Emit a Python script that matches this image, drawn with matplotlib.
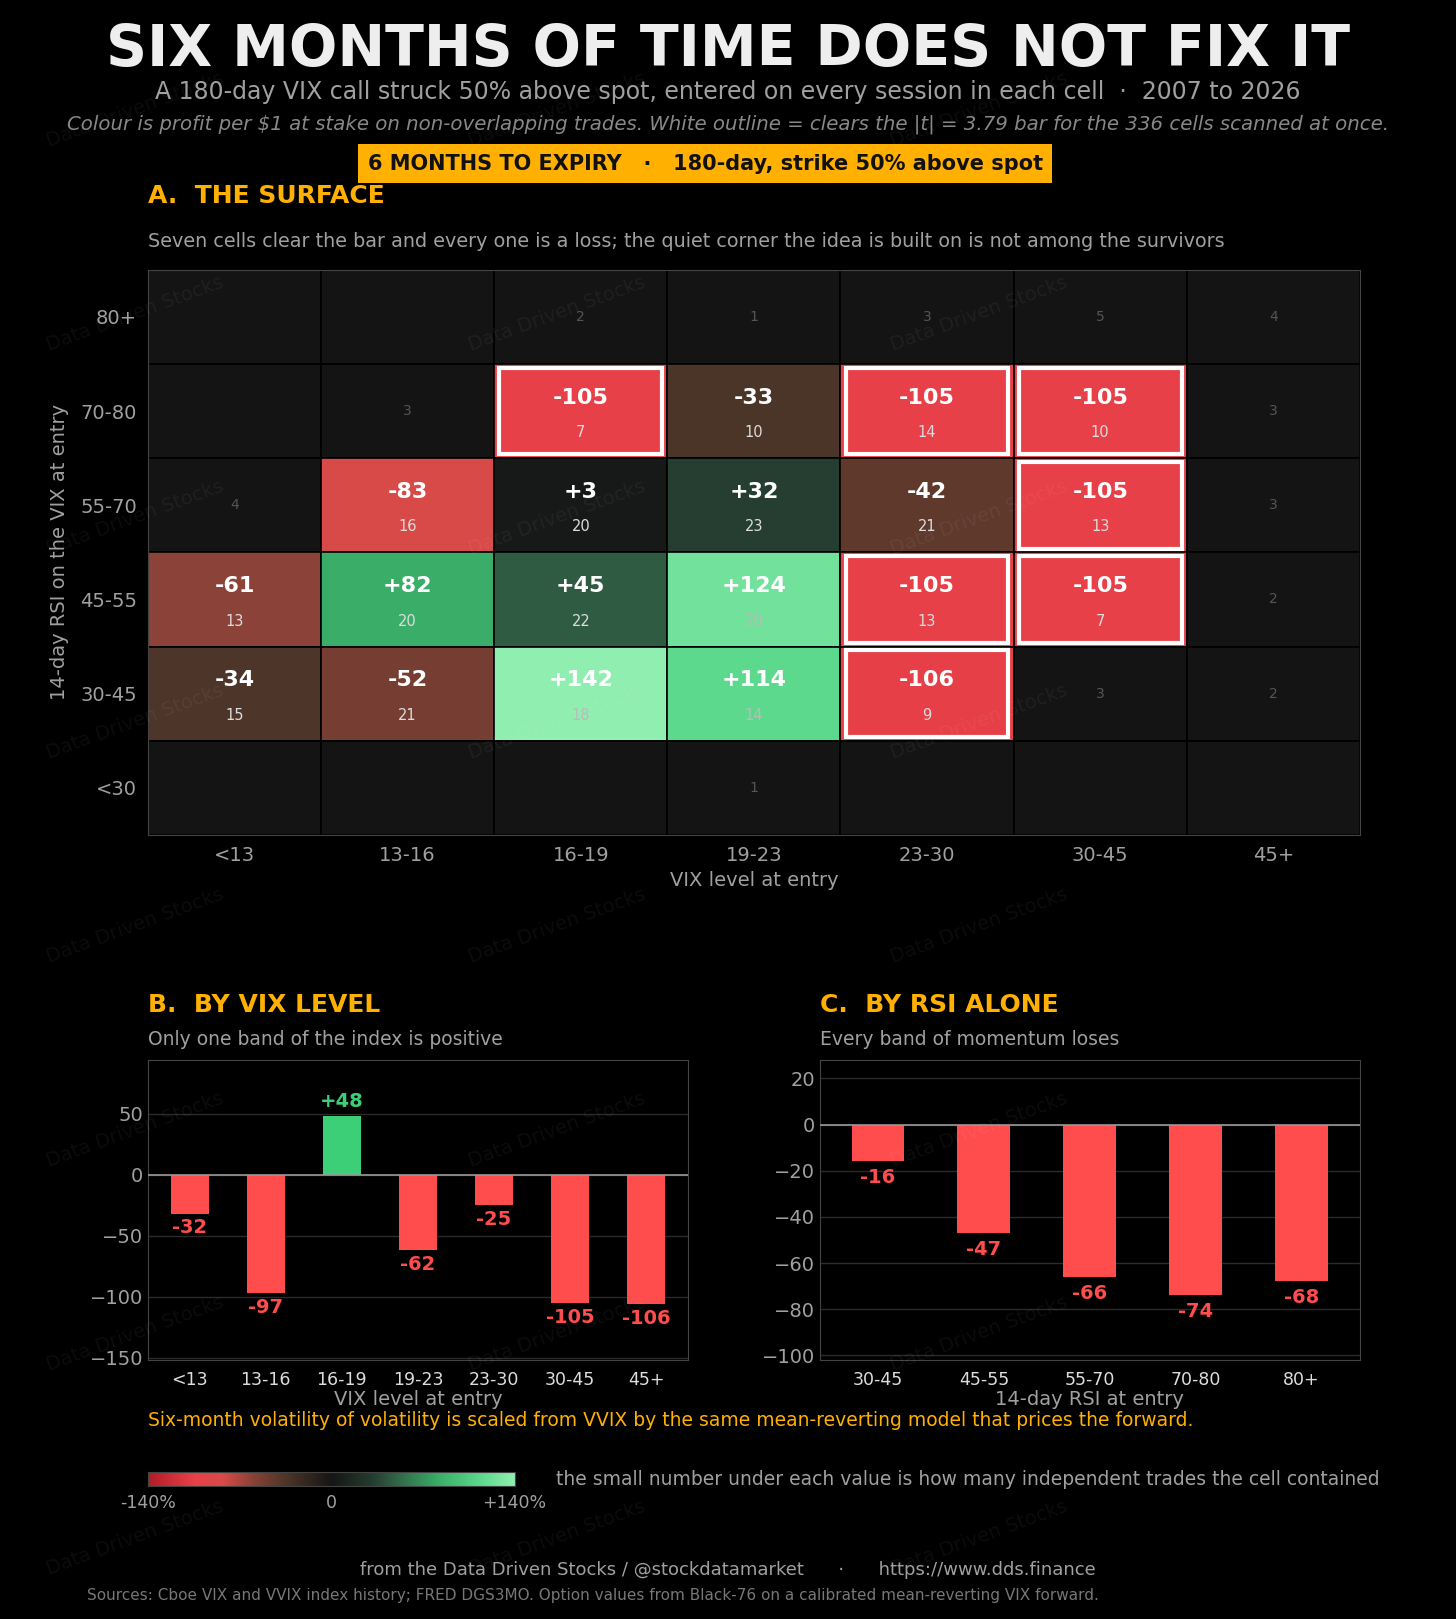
import numpy as np
import matplotlib.pyplot as plt
from matplotlib.colors import LinearSegmentedColormap, Normalize
from matplotlib.patches import Rectangle

# ---------------------------------------------------------------------------
# Data
# ---------------------------------------------------------------------------
vix_bands = ["<13", "13-16", "16-19", "19-23", "23-30", "30-45", "45+"]
rsi_bands = ["80+", "70-80", "55-70", "45-55", "30-45", "<30"]  # top to bottom

N = None
surface = [
    [N, N, N, N, N, N, N],
    [N, N, -105, -33, -105, -105, N],
    [N, -83, 3, 32, -42, -105, N],
    [-61, 82, 45, 124, -105, -105, N],
    [-34, -52, 142, 114, -106, N, N],
    [N, N, N, N, N, N, N],
]
trades = [
    [0, 0, 2, 1, 3, 5, 4],
    [0, 3, 7, 10, 14, 10, 3],
    [4, 16, 20, 23, 21, 13, 3],
    [13, 20, 22, 20, 13, 7, 2],
    [15, 21, 18, 14, 9, 3, 2],
    [0, 0, 0, 1, 0, 0, 0],
]
significant = [(1, 2), (1, 4), (1, 5), (2, 5), (3, 4), (3, 5), (4, 4)]

vix_bar = [-32, -97, 48, -62, -25, -105, -106]
rsi_labels = ["30-45", "45-55", "55-70", "70-80", "80+"]
rsi_bar = [-16, -47, -66, -74, -68]

# ---------------------------------------------------------------------------
# Styling
# ---------------------------------------------------------------------------
BG = "#000000"
ORANGE = "#ffb000"
GREY = "#a0a0a0"
RED = "#ff4d4d"
GREEN = "#3ccf78"
EMPTY = "#141414"

stops = [(-140, "#b01c28"), (-105, "#e84048"), (-83, "#d84a48"), (-61, "#8b4238"),
         (-33, "#4a3428"), (0, "#161616"), (32, "#253d30"), (45, "#2f5a42"),
         (82, "#3aae68"), (114, "#5cd88c"), (140, "#90eeb0")]
cmap = LinearSegmentedColormap.from_list(
    "pl", [((v + 140) / 280, c) for v, c in stops])
norm = Normalize(-140, 140)

plt.rcParams["font.family"] = ["DejaVu Sans"]
fig = plt.figure(figsize=(14.56, 16.19), dpi=100, facecolor=BG)

# watermarks
for wx in [0.03, 0.32, 0.61]:
    for wy in np.arange(0.05, 0.98, 0.126):
        fig.text(wx, wy, "Data Driven Stocks", color="white", alpha=0.05,
                 fontsize=14, rotation=20, ha="left", va="center")

# ---------------------------------------------------------------------------
# Headings
# ---------------------------------------------------------------------------
fig.text(0.5, 0.969, "SIX MONTHS OF TIME DOES NOT FIX IT", color="#eeeeee",
         fontsize=41, fontweight="bold", ha="center", va="center")
fig.text(0.5, 0.943, "A 180-day VIX call struck 50% above spot, entered on every session in each cell  ·  2007 to 2026",
         color=GREY, fontsize=17, ha="center", va="center")
fig.text(0.5, 0.923, "Colour is profit per $1 at stake on non-overlapping trades. White outline = clears the |t| = 3.79 bar for the 336 cells scanned at once.",
         color="#888888", fontsize=14.2, style="italic", ha="center", va="center")
fig.text(0.4845, 0.899, "6 MONTHS TO EXPIRY   ·   180-day, strike 50% above spot",
         color="#111111", fontsize=15, fontweight="bold", ha="center", va="center",
         bbox=dict(boxstyle="square,pad=0.45", fc=ORANGE, ec="none"))
fig.text(0.1016, 0.879, "A.  THE SURFACE", color=ORANGE, fontsize=18,
         fontweight="bold", ha="left", va="center")
fig.text(0.1016, 0.851, "Seven cells clear the bar and every one is a loss; the quiet corner the idea is built on is not among the survivors",
         color=GREY, fontsize=13.8, ha="left", va="center")

# ---------------------------------------------------------------------------
# Heatmap
# ---------------------------------------------------------------------------
ax = fig.add_axes([0.1016, 0.4843, 0.8324, 0.349], facecolor=BG)
nr, nc = len(rsi_bands), len(vix_bands)
for r in range(nr):
    for c in range(nc):
        v = surface[r][c]
        y = nr - 1 - r
        fc = EMPTY if v is None else cmap(norm(v))
        ax.add_patch(Rectangle((c, y), 1, 1, fc=fc, ec="#000000", lw=1.2))
        n = trades[r][c]
        if v is None:
            if n:
                ax.text(c + 0.5, y + 0.5, str(n), color="#555555", fontsize=10,
                        ha="center", va="center")
        else:
            ax.text(c + 0.5, y + 0.64, f"{v:+d}" if v > 0 else f"{v:d}",
                    color="white", fontsize=16, fontweight="bold",
                    ha="center", va="center")
            ncol = "#bbbbbb" if v > 100 else "#dddddd"
            ax.text(c + 0.5, y + 0.27, str(n), color=ncol, fontsize=10.5,
                    ha="center", va="center")
for r, c in significant:
    y = nr - 1 - r
    ax.add_patch(Rectangle((c + 0.03, y + 0.04), 0.94, 0.92, fc="none",
                           ec="white", lw=3, zorder=5))
ax.set_xlim(0, nc)
ax.set_ylim(0, nr)
ax.set_xticks(np.arange(nc) + 0.5)
ax.set_xticklabels(vix_bands)
ax.set_yticks(np.arange(nr) + 0.5)
ax.set_yticklabels(rsi_bands[::-1])
ax.tick_params(colors=GREY, labelsize=14, length=0, pad=8)
ax.set_xlabel("VIX level at entry", color=GREY, fontsize=14, labelpad=4)
ax.set_ylabel("14-day RSI on the VIX at entry", color=GREY, fontsize=14, labelpad=8)
for s in ax.spines.values():
    s.set_color("#444444")


# ---------------------------------------------------------------------------
# Bar panels
# ---------------------------------------------------------------------------
def bar_panel(rect, labels, vals, ylim, yticks, xlabel, title, sub, off):
    b = fig.add_axes(rect, facecolor=BG)
    x = np.arange(len(vals))
    cols = [GREEN if v > 0 else RED for v in vals]
    b.bar(x, vals, width=0.5, color=cols, zorder=3)
    b.axhline(0, color="#999999", lw=1.2, zorder=4)
    for xi, v, c in zip(x, vals, cols):
        lab = f"+{v}" if v > 0 else f"{v}"
        b.text(xi, v + (off if v > 0 else -off), lab, color=c, fontsize=14,
               fontweight="bold", ha="center", va="bottom" if v > 0 else "top")
    b.set_xlim(-0.55, len(vals) - 0.45)
    b.set_ylim(*ylim)
    b.set_yticks(yticks)
    b.set_xticks(x)
    b.set_xticklabels(labels)
    b.grid(axis="y", color="#2a2a2a", lw=1, zorder=0)
    b.tick_params(axis="x", colors="#dddddd", labelsize=12.5, length=0, pad=8)
    b.tick_params(axis="y", colors=GREY, labelsize=14, length=0)
    b.set_xlabel(xlabel, color=GREY, fontsize=14, labelpad=1)
    for s in b.spines.values():
        s.set_color("#444444")
    fig.text(rect[0], 0.379, title, color=ORANGE, fontsize=18,
             fontweight="bold", ha="left", va="center")
    fig.text(rect[0], 0.358, sub, color=GREY, fontsize=13.5,
             ha="left", va="center")
    return b


bar_panel([0.1016, 0.16, 0.371, 0.1853], vix_bands, vix_bar, (-152, 94),
          [-150, -100, -50, 0, 50], "VIX level at entry", "B.  BY VIX LEVEL",
          "Only one band of the index is positive", 4)
bar_panel([0.563, 0.16, 0.371, 0.1853], rsi_labels, rsi_bar, (-102, 28),
          [-100, -80, -60, -40, -20, 0, 20], "14-day RSI at entry",
          "C.  BY RSI ALONE", "Every band of momentum loses", 3)

fig.text(0.1016, 0.1225, "Six-month volatility of volatility is scaled from VVIX by the same mean-reverting model that prices the forward.",
         color=ORANGE, fontsize=13.5, ha="left", va="center")

# ---------------------------------------------------------------------------
# Colour bar and footer
# ---------------------------------------------------------------------------
cax = fig.add_axes([0.1016, 0.0822, 0.252, 0.0087])
cax.imshow(np.linspace(-140, 140, 256)[None, :], cmap=cmap, norm=norm,
           aspect="auto", extent=(-140, 140, 0, 1))
cax.set_xticks([])
cax.set_yticks([])
for s in cax.spines.values():
    s.set_color("#444444")
for xv, lab in [(0.102, "-140%"), (0.2275, "0"), (0.353, "+140%")]:
    fig.text(xv, 0.0715, lab, color=GREY, fontsize=12.5, ha="center", va="center")
fig.text(0.382, 0.086, "the small number under each value is how many independent trades the cell contained",
         color=GREY, fontsize=13.5, ha="left", va="center")
fig.text(0.5, 0.0305, "from the Data Driven Stocks / @stockdatamarket      ·      https://www.dds.finance",
         color=GREY, fontsize=13, ha="center", va="center")
fig.text(0.06, 0.0145, "Sources: Cboe VIX and VVIX index history; FRED DGS3MO. Option values from Black-76 on a calibrated mean-reverting VIX forward.",
         color="#777777", fontsize=11, ha="left", va="center")

fig.savefig("out.png", dpi=100, facecolor=BG)
